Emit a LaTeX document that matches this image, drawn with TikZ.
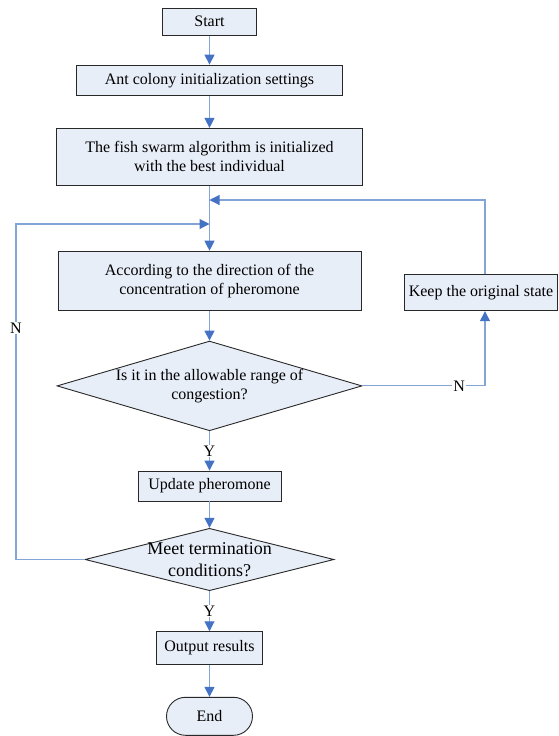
\documentclass[tikz,border=0pt]{standalone}
\usepackage{fontspec}
\setmainfont{Liberation Serif}
\usetikzlibrary{shapes.geometric,arrows.meta,calc}
\definecolor{linec}{RGB}{130,164,214}
\definecolor{arrc}{RGB}{68,114,196}
\definecolor{boxfill}{RGB}{232,238,248}
\definecolor{boxline}{RGB}{40,40,40}
\tikzset{
  proc/.style={draw=boxline, fill=boxfill, line width=0.9pt, inner sep=0pt, align=center,
    font=\fontsize{16}{19}\selectfont},
  dia/.style={shape=diamond, draw=boxline, fill=boxfill, line width=0.9pt, inner sep=0pt},
  txt/.style={align=center, inner sep=0pt, font=\fontsize{16}{19}\selectfont},
  bigtxt/.style={txt, font=\fontsize{18}{22}\selectfont},
  flow/.style={draw=linec, line width=1.1pt, -{Triangle[width=10pt,length=10pt,color=arrc]}},
  lbl/.style={fill=white, inner sep=1pt, font=\fontsize{16}{19}\selectfont},
}
\begin{document}
\begin{tikzpicture}[x=1pt,y=-1pt]
\useasboundingbox (0,0) rectangle (558,736);
\node[proc, minimum width=94pt, minimum height=27pt] (start) at (209.5,21.7) {Start};
\node[proc, minimum width=266.5pt, minimum height=30.3pt] (init) at (209.5,80.2) {Ant colony initialization settings};
\node[proc, minimum width=306pt, minimum height=56.7pt] (fish) at (209.5,156.7) {The fish swarm algorithm is initialized\\with the best individual};
\node[proc, minimum width=303pt, minimum height=59.7pt] (acc) at (209.5,281) {According to the direction of the\\concentration of pheromone};
\node[dia, minimum width=305pt, minimum height=89.7pt] (d1) at (209.5,385.9) {};
\node[txt] (d1t) at (d1) {Is it in the allowable range of\\congestion?};
\node[proc, minimum width=153pt, minimum height=36.4pt] (keep) at (481,292.5) {Keep the original state};
\node[proc, minimum width=143pt, minimum height=30pt] (upd) at (209.5,486) {Update pheromone};
\node[dia, minimum width=249pt, minimum height=62.4pt] (d2) at (209.5,559.5) {};
\node[bigtxt] (d2t) at (d2) {Meet termination\\conditions?};
\node[proc, minimum width=106pt, minimum height=32.6pt] (out) at (209.5,648) {Output results};
\node[proc, minimum width=86pt, minimum height=38pt, rounded corners=19pt] (end) at (209.5,716.3) {End};

\coordinate (jr) at (209.5,200);
\coordinate (jl) at (209.5,224);
\coordinate (rtop) at (485,200);
\coordinate (ltop) at (16,224);

\draw[flow] (start) -- (init);
\draw[flow] (init) -- (fish);
\draw[flow] (fish) -- (acc);
\draw[flow] (acc) -- (d1);
\draw[flow] (keep.north -| rtop) -- (rtop) -- (jr);
\draw[flow] (d1.east) -- node[lbl, pos=0.79]{N} (d1.east -| rtop) -- (keep.south -| rtop);
\draw[flow] (d1) -- node[lbl]{Y} (upd);
\draw[flow] (upd) -- (d2);
\draw[flow] (d2.west) -- (d2.west -| ltop) -- node[lbl, pos=0.69]{N} (ltop) -- (jl);
\draw[flow] (d2) -- node[lbl]{Y} (out);
\draw[flow] (out) -- (end);
\end{tikzpicture}
\end{document}
